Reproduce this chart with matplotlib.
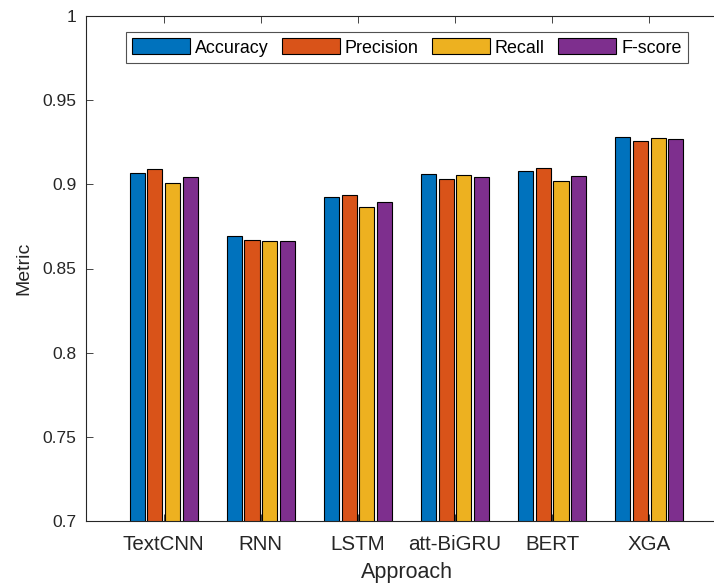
import numpy as np
import matplotlib
matplotlib.use('Agg')
import matplotlib.pyplot as plt
from matplotlib.ticker import FuncFormatter

plt.rcParams['font.family'] = ['Liberation Sans', 'DejaVu Sans']

approaches = ['TextCNN', 'RNN', 'LSTM', 'att-BiGRU', 'BERT', 'XGA']
metrics = ['Accuracy', 'Precision', 'Recall', 'F-score']
accuracy = [0.907, 0.8693, 0.8927, 0.906, 0.908, 0.9283]
precision = [0.909, 0.8668, 0.8935, 0.903, 0.9098, 0.926]
recall = [0.9007, 0.8662, 0.8868, 0.9058, 0.9018, 0.9276]
fscore = [0.9042, 0.8666, 0.8895, 0.9042, 0.9052, 0.9268]
colors = ['#0072BD', '#D95319', '#EDB120', '#7E2F8E']

W, H = 714, 584
fig = plt.figure(figsize=(W / 100, H / 100), dpi=100)
# axes box runs slightly past the right edge of the picture (cropped like the original)
ax = fig.add_axes([86 / W, 63 / H, (727 - 86) / W, (521 - 16) / H])

x = np.arange(1, len(approaches) + 1)
pitch = 0.182
width = 0.155
series = [accuracy, precision, recall, fscore]
for i, (vals, name) in enumerate(zip(series, metrics)):
    ax.bar(x + (i - 1.5) * pitch, vals, width, color=colors[i],
           edgecolor='black', linewidth=0.8, label=name, zorder=2)

ax.set_xlim(0.2, 6.8)
ax.set_ylim(0.7, 1.0)
ax.set_yticks(np.arange(0.7, 1.0001, 0.05))
ax.yaxis.set_major_formatter(FuncFormatter(lambda v, p: '%g' % round(v, 2)))
ax.set_xticks(x)
ax.set_xticklabels(approaches)
ax.tick_params(direction='in', length=5, width=0.6, colors='#262626',
               top=True, right=True)
ax.tick_params(axis='x', labelsize=14.8, pad=10)
ax.tick_params(axis='y', labelsize=12.5, pad=7)
for s in ax.spines.values():
    s.set_linewidth(0.8)
    s.set_color('#262626')

ax.set_xlabel('Approach', fontsize=15.5, color='#262626', labelpad=6)
ax.set_ylabel('Metric', fontsize=14, color='#262626', labelpad=7)

leg = ax.legend(loc='upper left', bbox_to_anchor=(40 / 641, 0.968), ncol=4,
                fontsize=12.9, frameon=True, fancybox=False, edgecolor='#262626',
                handlelength=3.2, handleheight=1.0, handletextpad=0.3,
                columnspacing=0.75, borderpad=0.35, borderaxespad=0)
leg.get_frame().set_linewidth(0.8)

fig.savefig('out.png', dpi=100)
